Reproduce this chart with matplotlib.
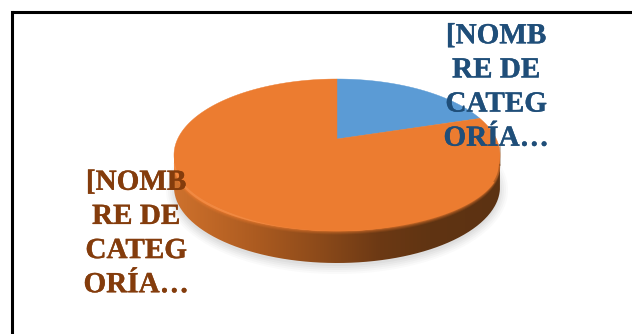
import numpy as np
import matplotlib
matplotlib.use("Agg")
import matplotlib.pyplot as plt
import matplotlib.patheffects as pe
from matplotlib.patches import PathPatch
from matplotlib.path import Path

# slice shares and their labels
categories = ["[NOMB\nRE DE\nCATEG\nORÍA…", "[NOMB\nRE DE\nCATEG\nORÍA…"]
shares = [17, 83]
slice_colors = ["#5B9BD5", "#EC7C30"]
label_colors = ["#1F4E79", "#843C0C"]

W, H = 632, 334
CX, CY = 337, 155      # centre of the disc outline
RX, RY = 163, 76
APEX_Y = 139           # perspective moves the slice apex above the outline centre
DEPTH = 32

fig = plt.figure(figsize=(W / 100, H / 100), dpi=100)
ax = fig.add_axes([0, 0, 1, 1])
ax.set_xlim(0, W)
ax.set_ylim(H, 0)
ax.axis("off")


def rim(theta):
    # theta runs clockwise from the top of the disc
    return CX + RX * np.sin(theta), CY - RY * np.cos(theta)


# soft drop shadow under the disc
t = np.linspace(0, 2 * np.pi, 240)
for grow, alpha in [(8, 0.04), (6, 0.05), (4, 0.06), (2, 0.07), (0, 0.08)]:
    ax.fill(CX + (RX + grow) * np.sin(t), CY + DEPTH + 3 + (RY + grow) * np.cos(t),
            color="#8a8a8a", alpha=alpha, lw=0, zorder=1)

# side wall, shaded left to right
low = np.linspace(-np.pi / 2, np.pi / 2, 200)
sx = CX + RX * np.sin(low)
front = CY + RY * np.cos(low)
verts = np.concatenate([np.c_[sx, front], np.c_[sx[::-1], front[::-1] + DEPTH]])
side = PathPatch(Path(verts), facecolor="none", edgecolor="none", zorder=2)
ax.add_patch(side)
stops_x = [173, 200, 260, 320, 380, 430, 500]
stops_rgb = np.array([[206, 114, 46], [196, 106, 40], [170, 90, 32], [140, 74, 26],
                      [108, 57, 20], [96, 52, 18], [92, 50, 18]]) / 255
grid = np.arange(173, 501)
grad = np.stack([np.interp(grid, stops_x, stops_rgb[:, i]) for i in range(3)], axis=1)[None, :, :]
im = ax.imshow(grad, extent=(173, 500, CY + RY + DEPTH + 2, CY - 2), aspect="auto",
               interpolation="bilinear", zorder=2)
im.set_clip_path(side)
ax.set_xlim(0, W)
ax.set_ylim(H, 0)

# rounded bevel: the top face rolls over the wall, deepest at the two sides
BEVEL_Y = 165
BEVEL_RY = 66
roll = np.linspace(-np.pi / 2, np.pi / 2, 300)
roll_x = CX + RX * np.sin(roll)
roll_y = BEVEL_Y + BEVEL_RY * np.cos(roll)

# blurred transition from the bevel into the wall
for grow, alpha in [(3.5, 0.12), (2.5, 0.18), (1.5, 0.25), (0.7, 0.35)]:
    ax.fill(np.r_[roll_x, roll_x[-1], roll_x[0]], np.r_[roll_y + grow, CY, CY],
            color=slice_colors[1], alpha=alpha, lw=0, zorder=3)
ax.fill(np.r_[roll_x, roll_x[-1], roll_x[0]], np.r_[roll_y, CY, CY],
        color=slice_colors[1], lw=0, zorder=3)

# lighter crease on the left and front of the bevel
crease = np.linspace(-np.pi / 2, np.pi * 0.06, 200)
ax.plot(CX + (RX - 1) * np.sin(crease), BEVEL_Y - 1 + BEVEL_RY * np.cos(crease),
        color="#f6924e", lw=1.6, alpha=0.6, zorder=4)

# darker edge where the right side turns away
turn = np.linspace(np.pi * 0.42, np.pi * 0.5, 40)
ax.plot(CX + (RX - 0.5) * np.sin(turn), BEVEL_Y + BEVEL_RY * np.cos(turn),
        color="#6b3a14", lw=1.2, alpha=0.4, zorder=4)
ax.plot([CX + RX - 0.5, CX + RX - 0.5], [CY - 8, BEVEL_Y],
        color="#6b3a14", lw=1.2, alpha=0.4, zorder=4)

# top face, one polygon per slice from the shares
edges = np.cumsum([0] + shares) / sum(shares) * 2 * np.pi
for start, stop, color in zip(edges[:-1], edges[1:], slice_colors):
    theta = np.linspace(start, stop, 300)
    x, y = rim(theta)
    ax.fill(np.r_[CX, x], np.r_[APEX_Y, y], color=color, lw=0.3, ec=color, zorder=5)

# labels on top of the disc
label_x = [496, 136]
label_y = [87, 233.5]
for name, color, x, y in zip(categories, label_colors, label_x, label_y):
    ax.text(x, y, name, color=color, ha="center", va="center", multialignment="center",
            family="Liberation Serif", fontweight="bold", fontsize=21,
            linespacing=1.34, zorder=6,
            path_effects=[pe.withStroke(linewidth=0.25, foreground=color)])

# frame, open on the right and at the bottom
ax.plot([12, 12], [H, 12], color="black", lw=2.2, solid_capstyle="projecting", zorder=7)
ax.plot([12, W], [12, 12], color="black", lw=2.2, solid_capstyle="butt", zorder=7)

fig.savefig("out.png", dpi=100)
